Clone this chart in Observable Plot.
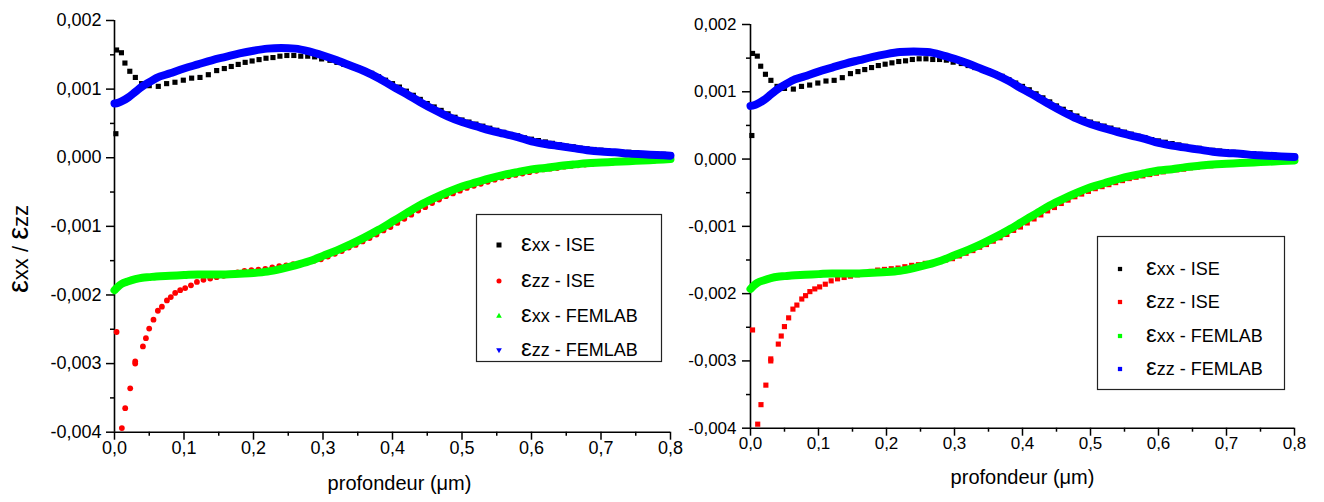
<!DOCTYPE html>
<html><head><meta charset="utf-8">
<script src="https://cdn.jsdelivr.net/npm/d3@7"></script>
<script src="https://cdn.jsdelivr.net/npm/@observablehq/plot@0.6"></script>
<style>
body{margin:0;background:#fff;}
#wrap{position:relative;width:1324px;height:502px;overflow:hidden;background:#fff;}
#wrap > svg{position:absolute;top:0;}
</style></head><body><div id="wrap"></div>
<script>
const FONT = '"Liberation Sans", Arial, sans-serif';

// tick values
const xTicks = [0, 0.1, 0.2, 0.3, 0.4, 0.5, 0.6, 0.7, 0.8];
const xMinor = [0.05, 0.15, 0.25, 0.35, 0.45, 0.55, 0.65, 0.75];
const yTicks = [-0.004, -0.003, -0.002, -0.001, 0, 0.001, 0.002];
const yMinor = [-0.0035, -0.0025, -0.0015, -0.0005, 0.0005, 0.0015];
const xTitle = "profondeur (μm)";
const yTitleA = "xx / ";
const yTitleB = "zz";
const seriesNames = ["εxx - ISE", "εzz - ISE", "εxx - FEMLAB", "εzz - FEMLAB"];
const seriesColors = ["#000000", "#ff0000", "#00ff00", "#0000ff"];

// εxx - ISE (black)
const exxIseX = [0.002,0.003,0.010,0.015,0.022,0.030,0.039,0.050,0.063,0.075,0.087,0.099,0.111,0.123,0.135,0.147,0.158,0.168,0.178,0.188,0.198,0.208,0.218,0.228,0.238,0.248,0.258,0.268,0.278,0.288,0.298,
  0.31,0.32,0.33,0.34,0.35,0.36,0.37,0.38,0.39,0.40,0.41,0.42,0.43,0.44,0.45,0.46,0.47,0.48,0.49,0.50,0.51,0.52,0.53,0.54,0.55,0.56,0.57,0.58,0.59,0.60,0.61,0.62,0.63,0.64,0.65,0.66,0.67,0.68,0.69,0.70,0.71,0.72,0.73,0.74,0.75,0.76,0.77,0.78,0.79,0.80];
const exxIseY = [0.00035,0.00157,0.00153,0.00138,0.00126,0.00117,0.00108,0.00105,0.00104,0.00108,0.00110,0.00113,0.00116,0.00117,0.00121,0.00127,0.00130,0.00133,0.00136,0.00139,0.00141,0.00143,0.00145,0.00146,0.00148,0.00149,0.00149,0.00148,0.00148,0.00147,0.00144,
  0.00142,0.00139,0.00136,0.00134,0.00131,0.00127,0.00123,0.00118,0.00113,0.00108,0.00103,0.00097,0.00091,0.00085,0.00079,0.00074,0.00069,0.00064,0.00059,0.00055,0.00052,0.00049,0.00046,0.00043,0.00040,0.00037,0.00034,0.00032,0.00029,0.00027,0.00025,0.00023,0.00021,0.00019,0.00017,0.00016,0.00014,0.00013,0.00012,0.00011,0.00010,0.00009,0.00008,0.00008,0.00007,0.00006,0.00006,0.00005,0.00005,0.00004];

// εzz - ISE (red)
const ezzIseX = [0.003,0.0106,0.0154,0.0226,0.0298,0.0298,0.0409,0.0452,0.0499,0.0561,0.0624,0.0682,0.0754,0.081,0.0873,0.0945,0.1017,0.110,0.1186,0.128,0.1377,0.147,
  0.157,0.167,0.177,0.187,0.197,0.207,0.217,0.227,0.237,0.247,0.257,0.267,0.277,0.287,0.297,0.307,0.317,0.327,0.337,0.347,0.357,0.367,0.377,0.387,0.397,0.407,0.417,0.427,0.437,0.447,0.457,0.467,0.477,0.487,0.497,0.507,0.517,0.527,0.537,0.547,0.557,0.567,0.577,0.587,0.597,0.607,0.617,0.627,0.637,0.647,0.657,0.667,0.677,0.687,0.697,0.707,0.717,0.727,0.737,0.747,0.757,0.767,0.777,0.787,0.797];
const ezzIseY = [-0.00254,-0.00394,-0.00365,-0.00336,-0.00297,-0.00300,-0.00275,-0.00263,-0.00249,-0.00236,-0.00223,-0.00217,-0.00208,-0.00203,-0.00197,-0.00193,-0.00190,-0.00186,-0.00181,-0.00178,-0.00176,-0.00174,
  -0.00172,-0.00170,-0.00167,-0.00165,-0.00164,-0.00163,-0.00162,-0.00160,-0.00158,-0.00157,-0.00155,-0.00154,-0.00152,-0.00150,-0.00148,-0.00144,-0.00140,-0.00136,-0.00131,-0.00127,-0.00122,-0.00117,-0.00112,-0.00106,-0.00101,-0.00095,-0.00089,-0.00083,-0.00077,-0.00072,-0.00066,-0.00061,-0.00056,-0.00052,-0.00048,-0.00044,-0.00041,-0.00038,-0.00035,-0.00032,-0.00029,-0.00027,-0.00025,-0.00023,-0.00021,-0.00019,-0.00017,-0.00016,-0.00015,-0.00013,-0.00012,-0.00011,-0.00010,-0.00009,-0.00008,-0.00008,-0.00007,-0.00006,-0.00006,-0.00005,-0.00005,-0.00004,-0.00004,-0.00003,-0.00003];

// FEMLAB series (dense markers, drawn as thick bands)
const femX = [0,0.005,0.01,0.02,0.03,0.04,0.05,0.06,0.08,0.10,0.12,0.14,0.16,0.18,0.20,0.22,0.24,0.26,0.28,0.30,0.32,0.34,0.36,0.38,0.40,0.42,0.44,0.46,0.48,0.50,0.52,0.54,0.56,0.58,0.60,0.62,0.64,0.66,0.68,0.70,0.72,0.74,0.76,0.78,0.80];
const exxFemY = [-0.00193,-0.00188,-0.00184,-0.00180,-0.00177,-0.00175,-0.00174,-0.00173,-0.00172,-0.00171,-0.00170,-0.00170,-0.00170,-0.00169,-0.00168,-0.00166,-0.00162,-0.00157,-0.00151,-0.00143,-0.00135,-0.00126,-0.00116,-0.00105,-0.00093,-0.00081,-0.00069,-0.00059,-0.00050,-0.00042,-0.00036,-0.00030,-0.00025,-0.00021,-0.00017,-0.00015,-0.00012,-0.00010,-0.00008,-0.00007,-0.00006,-0.00005,-0.00004,-0.00003,-0.00002];
const ezzFemY = [0.00079,0.00080,0.00082,0.00088,0.00096,0.00104,0.00110,0.00116,0.00123,0.00130,0.00136,0.00142,0.00147,0.00152,0.00156,0.00159,0.00160,0.00159,0.00155,0.00149,0.00142,0.00134,0.00126,0.00116,0.00104,0.00093,0.00081,0.00070,0.00060,0.00052,0.00046,0.00040,0.00035,0.00030,0.00024,0.00020,0.00017,0.00014,0.00011,0.00009,0.00008,0.00006,0.00005,0.00004,0.00003];

const zip = (xs, ys) => xs.map((x, i) => ({x, y: ys[i]}));
const exxIse = zip(exxIseX, exxIseY);
const ezzIse = zip(ezzIseX, ezzIseY);
const exxFem = zip(femX, exxFemY);
const ezzFem = zip(femX, ezzFemY);

const fmtX = d => d.toFixed(1).replace(".", ",");
const fmtY = d => d.toFixed(3).replace(".", ",");

function panel(o) {
  return Plot.plot({
    width: o.width, height: 502,
    marginLeft: o.ml, marginRight: o.mr, marginTop: o.mt, marginBottom: o.mb,
    x: {domain: [0, 0.8], label: null},
    y: {domain: [-0.004, 0.002], label: null},
    style: {fontFamily: FONT, fontSize: o.fs + "px", color: "#000", background: "transparent", overflow: "visible"},
    marks: [
      Plot.axisX({ticks: xMinor, tickSize: 4, tickFormat: () => "", strokeWidth: 1.5, label: null}),
      Plot.axisX({ticks: xTicks, tickSize: 8, tickPadding: 1, tickFormat: fmtX, strokeWidth: 1.5, label: null}),
      Plot.axisY({ticks: yMinor, tickSize: 4, tickFormat: () => "", strokeWidth: 1.5, label: null}),
      Plot.axisY({ticks: yTicks, tickSize: 8, tickPadding: o.yp, tickFormat: fmtY, strokeWidth: 1.5, label: null}),
      Plot.ruleX([0], {strokeWidth: 1.6}),
      Plot.ruleY([-0.004], {strokeWidth: 1.6}),
      Plot.dot(exxIse, {x: "x", y: "y", symbol: "square", r: 2.9, fill: seriesColors[0]}),
      Plot.dot(ezzIse, {x: "x", y: "y", symbol: o.redSym, r: o.redR, fill: seriesColors[1]}),
      Plot.line(exxFem, {x: "x", y: "y", stroke: seriesColors[2], strokeWidth: 8, curve: "monotone-x"}),
      Plot.line(ezzFem, {x: "x", y: "y", stroke: seriesColors[3], strokeWidth: 8, curve: "monotone-x"}),
      Plot.text([xTitle], {frameAnchor: "bottom", dx: o.tdx, dy: o.tdy, fontSize: o.tfs, fill: "#000"})
    ]
  });
}

const wrap = document.getElementById("wrap");
const leftP = panel({width: 680, ml: 114, mr: 10, mt: 20, mb: 70.3, fs: 18, yp: 5, redSym: "circle", redR: 2.9, tdx: 7, tdy: 58, tfs: 20});
leftP.style.left = "0px";
wrap.append(leftP);
const rightP = panel({width: 644, ml: 70, mr: 30, mt: 24, mb: 74.3, fs: 17, yp: 6, redSym: "square", redR: 2.9, tdx: 0, tdy: 56, tfs: 20});
rightP.style.left = "680px";
wrap.append(rightP);

// overlay: legends and y title
const ov = d3.create("svg").attr("width", 1324).attr("height", 502)
  .style("position", "absolute").style("left", "0px").style("top", "0px")
  .style("font-family", FONT);

const symMap = {square: d3.symbolSquare, circle: d3.symbolCircle, up: d3.symbolTriangle, down: d3.symbolTriangle};
function drawLegend(b) {
  const g = ov.append("g");
  g.append("rect").attr("x", b.x).attr("y", b.y).attr("width", b.w).attr("height", b.h)
    .attr("fill", "#fff").attr("stroke", "#222").attr("stroke-width", 1.2);
  seriesNames.forEach((name, i) => {
    const cy = b.rows[i];
    g.append("path")
      .attr("transform", `translate(${b.mx},${cy})` + (b.syms[i] === "down" ? " rotate(180)" : ""))
      .attr("d", d3.symbol(symMap[b.syms[i]], b.sizes[i])())
      .attr("fill", seriesColors[i]);
    const t = g.append("text").attr("x", b.tx).attr("y", cy + 6.4).attr("font-size", b.fs).attr("fill", "#000");
    t.append("tspan").attr("font-size", b.efs).text(name[0]);
    t.append("tspan").text(name.slice(1));
  });
}
drawLegend({x: 476.5, y: 214.5, w: 185, h: 147, mx: 499, tx: 521, rows: [245, 281, 316, 350],
  syms: ["square", "circle", "up", "down"], sizes: [25, 20, 14, 14], fs: 18, efs: 24});
drawLegend({x: 1097.5, y: 236.5, w: 187, h: 153, mx: 1120, tx: 1146, rows: [269, 302, 336, 369],
  syms: ["square", "square", "square", "square"], sizes: [18, 18, 18, 18], fs: 18, efs: 24});

const yt = ov.append("text").attr("transform", "translate(28,249) rotate(-90)")
  .attr("text-anchor", "middle").attr("font-size", 22).attr("fill", "#000");
yt.append("tspan").attr("font-size", 29).text("ε");
yt.append("tspan").text(yTitleA);
yt.append("tspan").attr("font-size", 29).text("ε");
yt.append("tspan").text(yTitleB);

wrap.append(ov.node());
</script>
</body></html>
